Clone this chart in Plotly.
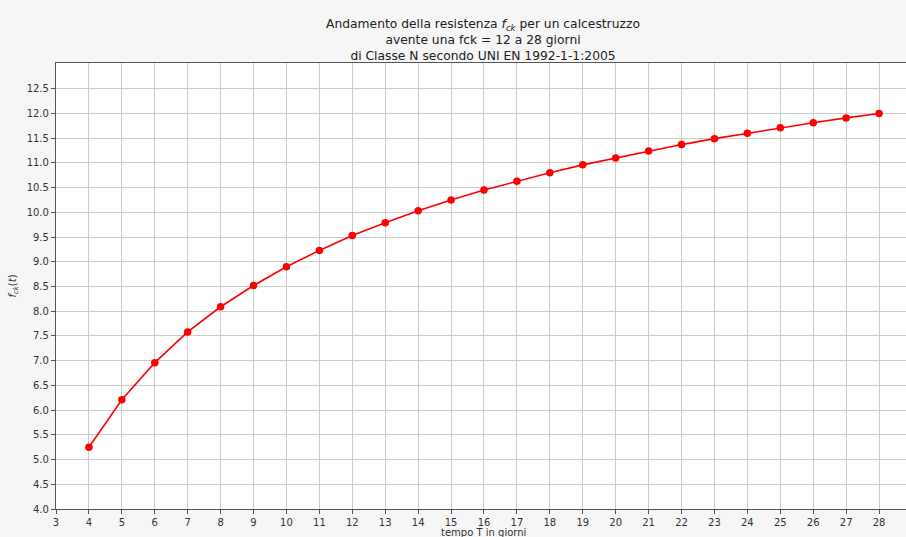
import plotly.graph_objects as go

giorni = list(range(4, 29))
fck_t = [5.25, 6.21, 6.96, 7.58, 8.09, 8.52, 8.90, 9.23, 9.53, 9.79, 10.03,
         10.25, 10.45, 10.63, 10.80, 10.96, 11.10, 11.24, 11.37, 11.49, 11.60,
         11.71, 11.81, 11.91, 12.00]
x_ticks = list(range(3, 29))
y_ticks = [4.0 + 0.5 * i for i in range(18)]

fig = go.Figure()
fig.add_trace(go.Scatter(
    x=giorni, y=fck_t, mode="lines+markers",
    line=dict(color="#ff0000", width=1.6),
    marker=dict(color="#ff0000", size=7.5),
    showlegend=False, cliponaxis=False,
))

font = "DejaVu Sans, Liberation Sans, sans-serif"
fig.update_layout(
    width=910, height=537,
    margin=dict(l=56, r=0, t=63, b=28),
    paper_bgcolor="#f6f6f6",
    plot_bgcolor="#ffffff",
    font=dict(family=font, size=10, color="#333333"),
    title=dict(
        text="Andamento della resistenza <i>f</i><sub><i>ck</i></sub> per un calcestruzzo"
             "<br>avente una fck = 12 a 28 giorni<br>di Classe N secondo UNI EN 1992-1-1:2005",
        x=0.5, xref="paper", xanchor="center",
        y=0.948, yref="container", yanchor="top",
        font=dict(family=font, size=12.3, color="#222222"),
    ),
    xaxis=dict(
        range=[3, 28.94], tickvals=x_ticks, ticktext=[str(v) for v in x_ticks],
        showgrid=True, gridcolor="#cccccc", gridwidth=1,
        showline=True, linecolor="#555555", linewidth=1.2, mirror=True,
        ticks="outside", ticklen=4, tickcolor="#555555",
        zeroline=False, automargin=False,
    ),
    yaxis=dict(
        range=[4.0, 13.02], tickvals=y_ticks, ticktext=[f"{v:.1f}" for v in y_ticks],
        showgrid=True, gridcolor="#cccccc", gridwidth=1,
        showline=True, linecolor="#555555", linewidth=1.2, mirror=True,
        ticks="outside", ticklen=4, tickcolor="#555555",
        zeroline=False, automargin=False,
        title=dict(text="<i>f</i><sub><i>ck</i></sub>(<i>t</i>)", standoff=8,
                   font=dict(family=font, size=10, color="#333333")),
    ),
    annotations=[dict(
        text="tempo T in giorni", xref="paper", yref="paper", x=0.5, y=0,
        xanchor="center", yanchor="middle", yshift=-23, showarrow=False,
        font=dict(family=font, size=10, color="#333333"),
    )],
)

fig.write_html(
    "out.html",
    config={"displayModeBar": False},
    post_script="document.body.style.margin='0';document.body.style.overflow='hidden';"
                "document.documentElement.style.overflow='hidden';",
)
